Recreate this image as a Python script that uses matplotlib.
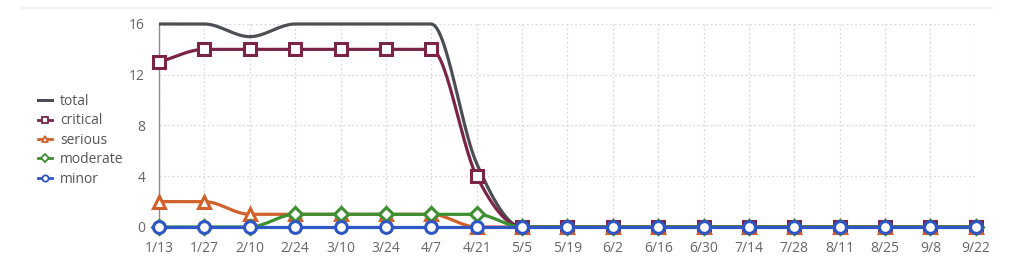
import numpy as np
import matplotlib
matplotlib.use("Agg")
import matplotlib.pyplot as plt
from matplotlib.lines import Line2D

plt.rcParams['font.family'] = ['Open Sans', 'DejaVu Sans']

dates = ['1/13', '1/27', '2/10', '2/24', '3/10', '3/24', '4/7', '4/21', '5/5', '5/19',
         '6/2', '6/16', '6/30', '7/14', '7/28', '8/11', '8/25', '9/8', '9/22']
total = [16, 16, 15, 16, 16, 16, 16, 5, 0, 0, 0, 0, 0, 0, 0, 0, 0, 0, 0]
critical = [13, 14, 14, 14, 14, 14, 14, 4, 0, 0, 0, 0, 0, 0, 0, 0, 0, 0, 0]
serious = [2, 2, 1, 1, 1, 1, 1, 0, 0, 0, 0, 0, 0, 0, 0, 0, 0, 0, 0]
moderate = [0, 0, 0, 1, 1, 1, 1, 1, 0, 0, 0, 0, 0, 0, 0, 0, 0, 0, 0]
minor = [0] * 19


def monotone(y, n=30):
    # Fritsch-Carlson monotone cubic, like chart.js "monotone"
    y = np.asarray(y, float)
    x = np.arange(len(y), dtype=float)
    d = np.diff(y)
    m = np.zeros(len(y))
    m[0], m[-1] = d[0], d[-1]
    for i in range(1, len(y) - 1):
        if d[i - 1] * d[i] <= 0:
            m[i] = 0
        else:
            m[i] = (d[i - 1] + d[i]) / 2
    for i in range(len(d)):
        if d[i] == 0:
            m[i] = m[i + 1] = 0
        else:
            a, b = m[i] / d[i], m[i + 1] / d[i]
            s = a * a + b * b
            if s > 9:
                t = 3 / np.sqrt(s)
                m[i], m[i + 1] = t * a * d[i], t * b * d[i]
    xs, ys = [], []
    for i in range(len(d)):
        t = np.linspace(0, 1, n)
        h00 = 2 * t**3 - 3 * t**2 + 1
        h10 = t**3 - 2 * t**2 + t
        h01 = -2 * t**3 + 3 * t**2
        h11 = t**3 - t**2
        xs.append(x[i] + t)
        ys.append(h00 * y[i] + h10 * m[i] + h01 * y[i + 1] + h11 * m[i + 1])
    return np.concatenate(xs), np.concatenate(ys)


fig = plt.figure(figsize=(10.24, 2.78), dpi=100)
ax = fig.add_axes([0.1553, 0.1835, 0.7977, 0.7302])

series = [
    ('total', total, '#4b4f54', None),
    ('critical', critical, '#7a2447', 's'),
    ('serious', serious, '#d0612c', '^'),
    ('moderate', moderate, '#3d8f31', 'D'),
    ('minor', minor, '#2e56c4', 'o'),
]

handles = []
x = np.arange(len(dates))
for i, (name, vals, col, mk) in enumerate(series):
    sx, sy = monotone(vals)
    ax.plot(sx, sy, color=col, lw=2.3, zorder=3 + i, clip_on=False, solid_capstyle='butt')
    if mk:
        ms = 8.5 if mk != 'D' else 7.5
        ax.plot(x, vals, ls='none', marker=mk, ms=ms, mfc='white', mec=col, mew=2.2,
                zorder=3 + i, clip_on=False)
        handles.append(Line2D([], [], color=col, lw=2, marker=mk, ms=4.5, mfc='white',
                              mec=col, mew=1.3, label=name))
    else:
        handles.append(Line2D([], [], color=col, lw=2.2, label=name))

ax.set_xlim(0, len(dates) - 1)
ax.set_ylim(0, 16)
ax.set_xticks(x)
ax.set_xticklabels(dates)
ax.set_yticks([0, 4, 8, 12, 16])
ax.tick_params(length=0, labelsize=10, labelcolor='#666666', pad=10)
ax.tick_params(axis='y', pad=10)
ax.grid(True, ls=(0, (1.5, 2)), color='#d9d9d9', lw=0.9)
ax.set_axisbelow(True)
for s in ['top', 'right', 'bottom']:
    ax.spines[s].set_visible(False)
ax.spines['left'].set_color('#8c8c8c')
ax.spines['left'].set_linewidth(1)

fig.legend(handles=handles, loc='center left', bbox_to_anchor=(0.03, 0.495), frameon=False,
           fontsize=10, labelcolor='#555555', handlelength=1.0, handletextpad=0.6,
           labelspacing=0.32, borderpad=0)

fig.add_artist(Line2D([0.021, 0.97], [0.971, 0.971], color='#f0f0f0', lw=1.2,
                      transform=fig.transFigure))

fig.savefig('out.png', dpi=100, facecolor='white')
